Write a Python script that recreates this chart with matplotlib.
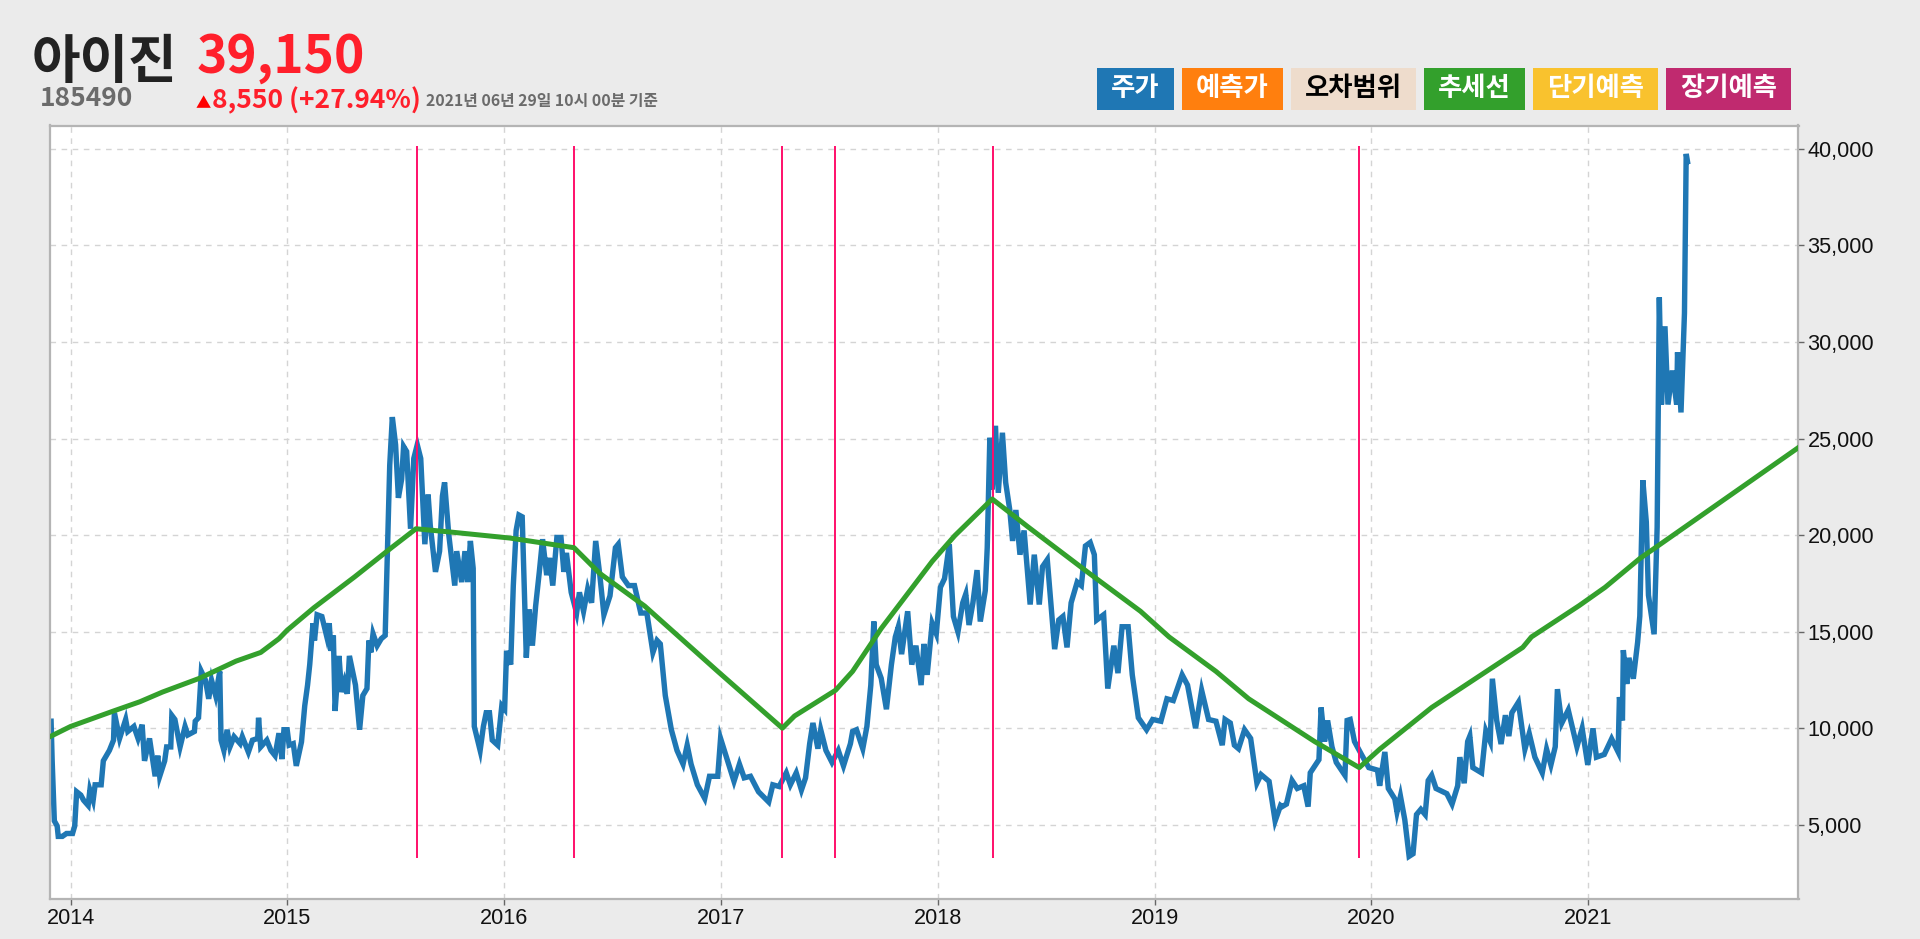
import matplotlib
matplotlib.use("Agg")
import matplotlib.pyplot as plt
from matplotlib.patches import Rectangle

W, H = 1920, 939

# 주가 (x: 연도 소수, y: 원)
price_years = [
    2013.910, 2013.915, 2013.925, 2013.938, 2013.943, 2013.962, 2013.981, 2014.009, 2014.019, 2014.028,
    2014.047, 2014.060, 2014.081, 2014.089, 2014.104, 2014.113, 2014.141, 2014.151, 2014.179, 2014.198,
    2014.202, 2014.226, 2014.254, 2014.264, 2014.292, 2014.311, 2014.330, 2014.341, 2014.364, 2014.390,
    2014.402, 2014.411, 2014.434, 2014.443, 2014.462, 2014.467, 2014.481, 2014.505, 2014.528, 2014.541,
    2014.571, 2014.575, 2014.590, 2014.603, 2014.622, 2014.637, 2014.650, 2014.669, 2014.688, 2014.694,
    2014.707, 2014.722, 2014.735, 2014.754, 2014.782, 2014.792, 2014.820, 2014.839, 2014.863, 2014.867,
    2014.877, 2014.905, 2014.924, 2014.943, 2014.961, 2014.975, 2014.984, 2014.999, 2015.008, 2015.027,
    2015.041, 2015.065, 2015.080, 2015.093, 2015.103, 2015.118, 2015.125, 2015.137, 2015.159, 2015.182,
    2015.193, 2015.201, 2015.212, 2015.220, 2015.238, 2015.250, 2015.263, 2015.276, 2015.286, 2015.301,
    2015.314, 2015.333, 2015.348, 2015.367, 2015.376, 2015.385, 2015.395, 2015.414, 2015.433, 2015.451,
    2015.461, 2015.472, 2015.484, 2015.499, 2015.512, 2015.527, 2015.536, 2015.550, 2015.568, 2015.583,
    2015.599, 2015.615, 2015.634, 2015.649, 2015.659, 2015.683, 2015.702, 2015.715, 2015.725, 2015.744,
    2015.772, 2015.781, 2015.804, 2015.819, 2015.832, 2015.844, 2015.857, 2015.862, 2015.889, 2015.904,
    2015.917, 2015.932, 2015.945, 2015.970, 2015.989, 2016.002, 2016.011, 2016.030, 2016.042, 2016.055,
    2016.068, 2016.083, 2016.102, 2016.115, 2016.130, 2016.145, 2016.162, 2016.177, 2016.196, 2016.209,
    2016.224, 2016.243, 2016.262, 2016.275, 2016.287, 2016.309, 2016.334, 2016.347, 2016.366, 2016.385,
    2016.403, 2016.422, 2016.441, 2016.460, 2016.488, 2016.513, 2016.526, 2016.545, 2016.573, 2016.601,
    2016.630, 2016.658, 2016.686, 2016.705, 2016.720, 2016.743, 2016.771, 2016.797, 2016.825, 2016.844,
    2016.862, 2016.891, 2016.925, 2016.947, 2016.985, 2016.998, 2017.023, 2017.060, 2017.085, 2017.107,
    2017.136, 2017.173, 2017.220, 2017.239, 2017.268, 2017.301, 2017.320, 2017.347, 2017.371, 2017.390,
    2017.409, 2017.424, 2017.447, 2017.460, 2017.484, 2017.512, 2017.541, 2017.565, 2017.597, 2017.607,
    2017.625, 2017.654, 2017.673, 2017.691, 2017.705, 2017.716, 2017.739, 2017.763, 2017.786, 2017.804,
    2017.818, 2017.833, 2017.861, 2017.880, 2017.899, 2017.923, 2017.936, 2017.951, 2017.974, 2017.993,
    2018.012, 2018.031, 2018.053, 2018.072, 2018.093, 2018.115, 2018.129, 2018.144, 2018.162, 2018.181,
    2018.196, 2018.219, 2018.228, 2018.240, 2018.251, 2018.266, 2018.279, 2018.298, 2018.313, 2018.332,
    2018.345, 2018.360, 2018.379, 2018.398, 2018.426, 2018.445, 2018.468, 2018.483, 2018.505, 2018.520,
    2018.539, 2018.558, 2018.577, 2018.596, 2018.615, 2018.643, 2018.662, 2018.681, 2018.703, 2018.722,
    2018.733, 2018.765, 2018.784, 2018.812, 2018.831, 2018.850, 2018.878, 2018.897, 2018.925, 2018.963,
    2018.991, 2019.029, 2019.057, 2019.086, 2019.127, 2019.152, 2019.189, 2019.217, 2019.249, 2019.283,
    2019.312, 2019.325, 2019.349, 2019.368, 2019.387, 2019.415, 2019.443, 2019.472, 2019.491, 2019.528,
    2019.556, 2019.581, 2019.588, 2019.608, 2019.634, 2019.658, 2019.688, 2019.708, 2019.718, 2019.758,
    2019.768, 2019.784, 2019.798, 2019.818, 2019.838, 2019.878, 2019.888, 2019.902, 2019.922, 2019.954,
    2019.988, 2020.028, 2020.038, 2020.062, 2020.078, 2020.108, 2020.118, 2020.134, 2020.154, 2020.174,
    2020.192, 2020.208, 2020.228, 2020.248, 2020.262, 2020.278, 2020.298, 2020.348, 2020.372, 2020.398,
    2020.408, 2020.428, 2020.444, 2020.454, 2020.468, 2020.508, 2020.528, 2020.548, 2020.558, 2020.578,
    2020.598, 2020.618, 2020.634, 2020.648, 2020.678, 2020.708, 2020.728, 2020.754, 2020.788, 2020.808,
    2020.828, 2020.848, 2020.858, 2020.878, 2020.908, 2020.948, 2020.972, 2020.998, 2021.022, 2021.038,
    2021.074, 2021.108, 2021.138, 2021.144, 2021.158, 2021.162, 2021.178, 2021.188, 2021.208, 2021.228,
    2021.238, 2021.252, 2021.268, 2021.278, 2021.304, 2021.318, 2021.328, 2021.338, 2021.354, 2021.368,
    2021.388, 2021.408, 2021.412, 2021.428, 2021.444, 2021.452, 2021.458,
]
price_values = [
    10370, 8320, 5210, 4950, 4410, 4410, 4560, 4560, 4950, 6720,
    6550, 6280, 6010, 6810, 6280, 7080, 7080, 8320, 8860, 9390,
    10810, 9480, 10460, 9840, 10100, 9480, 10190, 8320, 9480, 7520,
    8590, 7520, 8320, 9040, 9040, 10670, 10460, 9040, 10100, 9660,
    9840, 10370, 10550, 12950, 12500, 11530, 12500, 11700, 12950, 9390,
    8860, 9930, 9040, 9570, 9210, 9570, 8770, 9390, 9480, 10550,
    9040, 9390, 8860, 8590, 9750, 8410, 9930, 9930, 9130, 9210,
    8060, 9300, 11170, 12240, 13300, 15440, 14550, 15880, 15790, 14730,
    15440, 14010, 14810, 10900, 13750, 11880, 12410, 11790, 13750, 12950,
    12240, 9930, 11700, 12060, 14550, 13930, 14900, 14280, 14640, 14810,
    18990, 23620, 26110, 24680, 21930, 22900, 24590, 24330, 20330, 23970,
    24680, 23970, 19530, 22100, 20500, 18100, 19170, 22020, 22730, 20060,
    17390, 19170, 17570, 19170, 17570, 19700, 18280, 10100, 8860, 10100,
    10810, 10810, 9390, 9130, 11170, 10990, 14010, 13300, 17390, 20240,
    21040, 20950, 13660, 16150, 14280, 16330, 18100, 19790, 17930, 18820,
    17390, 19880, 19880, 18100, 19080, 17040, 15970, 17040, 16060, 17210,
    16500, 19700, 17930, 15880, 16860, 19350, 19530, 17840, 17390, 17390,
    15970, 15970, 13930, 14550, 14370, 11700, 9930, 8860, 8150, 9130,
    8150, 7080, 6370, 7520, 7520, 9480, 8590, 7260, 8150, 7440,
    7520, 6720, 6190, 7080, 6990, 7700, 7080, 7700, 6810, 7440,
    9210, 10280, 8950, 9930, 8860, 8240, 8860, 8060, 9210, 9840,
    9930, 8950, 10100, 12240, 15530, 13300, 12590, 10990, 13300, 14730,
    15260, 13840, 16060, 13300, 14280, 12240, 14370, 12770, 15440, 14900,
    17300, 17750, 19530, 15790, 14990, 16500, 16950, 15350, 16500, 18190,
    15530, 17130, 19350, 25040, 22370, 25660, 22190, 25300, 22730, 21300,
    19700, 21300, 18990, 20240, 16410, 18990, 16410, 18370, 18730, 16680,
    14100, 15610, 15790, 14190, 16500, 17570, 17390, 19440, 19620, 18990,
    15610, 15880, 12060, 14280, 12860, 15260, 15260, 12770, 10550, 9930,
    10460, 10370, 11530, 11440, 12770, 12240, 10010, 11970, 10460, 10370,
    9130, 10460, 10280, 9130, 8950, 9930, 9480, 7170, 7610, 7260,
    5210, 6010, 5950, 6080, 7300, 6890, 7030, 5950, 7700, 8380,
    11080, 9320, 10410, 9050, 8240, 7570, 10410, 10460, 9320, 8650,
    7970, 7840, 7030, 8780, 6890, 6350, 5680, 6490, 5270, 3380,
    3510, 5540, 5810, 5540, 7300, 7570, 6890, 6620, 6080, 7030,
    8510, 7160, 9320, 9600, 7970, 7700, 9870, 9320, 12570, 10410,
    9190, 10680, 9600, 10810, 11350, 8920, 9730, 8510, 7700, 8920,
    8110, 9050, 12030, 10270, 10950, 9050, 10000, 8110, 10000, 8510,
    8650, 9460, 8780, 11620, 10410, 14050, 12300, 13650, 12570, 14460,
    15810, 22840, 20680, 16890, 14870, 20410, 32300, 26760, 30810, 26760,
    28520, 26760, 29460, 26350, 31490, 39730, 39330,
]

# 추세선
trend_years = [
    2013.910, 2014.000, 2014.198, 2014.320, 2014.424, 2014.594, 2014.763, 2014.877, 2014.961, 2014.999,
    2015.122, 2015.310, 2015.480, 2015.593, 2015.762, 2016.026, 2016.322, 2016.441, 2016.648, 2016.985,
    2017.283, 2017.339, 2017.528, 2017.607, 2017.739, 2017.974, 2018.078, 2018.251, 2018.417, 2018.699,
    2018.935, 2019.067, 2019.283, 2019.434, 2019.738, 2019.944, 2020.038, 2020.278, 2020.698, 2020.738,
    2020.958, 2021.078, 2021.238, 2021.358, 2021.968,
]
trend_values = [
    9600, 10100, 10900, 11380, 11880, 12590, 13480, 13930, 14640, 15080,
    16240, 17840, 19350, 20330, 20150, 19850, 19350, 18020, 16330, 12950,
    10010, 10640, 11970, 12950, 15170, 18640, 19970, 21870, 20420, 18020,
    16060, 14730, 12950, 11530, 9320, 7970, 8920, 11080, 14190, 14730,
    16350, 17300, 18790, 19730, 24520,
]

# 변곡점
turn_years = [2015.597, 2016.322, 2017.283, 2017.526, 2018.253, 2019.942]
turn_low, turn_high = 3290, 40150

year_ticks = [2014, 2015, 2016, 2017, 2018, 2019, 2020, 2021]
price_ticks = [5000, 10000, 15000, 20000, 25000, 30000, 35000, 40000]

legend_labels = ["주가", "예측가", "오차범위", "추세선", "단기예측", "장기예측"]
legend_colors = ["#1f77b4", "#ff7f0e", "#eedccc", "#33a02c", "#f9c22e", "#c02a6f"]
legend_text_colors = ["white", "white", "black", "white", "white", "white"]
legend_spans = [(1097, 1174), (1182, 1283), (1291, 1416), (1424, 1525), (1533, 1658), (1666, 1791)]

KR = "Noto Sans CJK KR"
BG = "#ebebeb"


def fx(px):
    return px / W


def fy(py):
    return 1 - py / H


fig = plt.figure(figsize=(W / 100, H / 100), dpi=100, facecolor=BG)
ax = fig.add_axes([fx(50), fy(898.8), fx(1798.5 - 50), (898.8 - 125.5) / H], facecolor="white")

ax.plot(price_years, price_values, color="#1f77b4", lw=3.9, solid_joinstyle="miter", zorder=2)
ax.vlines(turn_years, turn_low, turn_high, color="#ff0f6a", lw=1.4, zorder=3)
ax.plot(trend_years, trend_values, color="#33a02c", lw=3.6, zorder=4)

ax.set_xlim(2013.905, 2021.97)
ax.set_ylim(1180, 41200)
ax.set_xticks(year_ticks)
ax.set_yticks(price_ticks)
ax.set_yticklabels([f"{v:,}" for v in price_ticks])
ax.yaxis.tick_right()
ax.grid(True, color="#d4d4d4", lw=1, linestyle=(0, (4, 4)))
ax.set_axisbelow(True)
ax.tick_params(axis="both", labelsize=15.6, length=4, width=1, color="#666666", pad=2.5, labelcolor="#111111")
for lab in ax.get_xticklabels() + ax.get_yticklabels():
    lab.set_fontfamily("Liberation Sans")
for spine in ax.spines.values():
    spine.set_color("#b4b4b4")
    spine.set_linewidth(1.6)

# 머리글
fig.text(fx(32), fy(78), "아이진", family=KR, weight="bold", size=38, color="#222222", va="baseline")
fig.text(fx(197), fy(73), "39,150", family=KR, weight="bold", size=37, color="#ff1f2b", va="baseline")
fig.text(fx(40), fy(106), "185490", family=KR, weight="bold", size=19, color="#6b6b6b", va="baseline")
fig.text(fx(196), fy(108), "▲", family=KR, size=11, color="#ff0000", va="baseline")
fig.text(fx(212), fy(108), "8,550 (+27.94%)", family=KR, weight="bold", size=19, color="#ff1f2b", va="baseline")
fig.text(fx(426), fy(106), "2021년 06년 29일 10시 00분 기준", family=KR, weight="bold", size=11.4,
         color="#6b6b6b", va="baseline")

# 범례 버튼
for label, color, text_color, (x0, x1) in zip(legend_labels, legend_colors, legend_text_colors, legend_spans):
    fig.add_artist(Rectangle((fx(x0), fy(110)), fx(x1 - x0), 42 / H, transform=fig.transFigure,
                             facecolor=color, edgecolor="none"))
    fig.text(fx((x0 + x1) / 2), fy(89), label, family=KR, weight="bold", size=19, color=text_color,
             ha="center", va="center")

fig.savefig("out.png", dpi=100, facecolor=BG)
